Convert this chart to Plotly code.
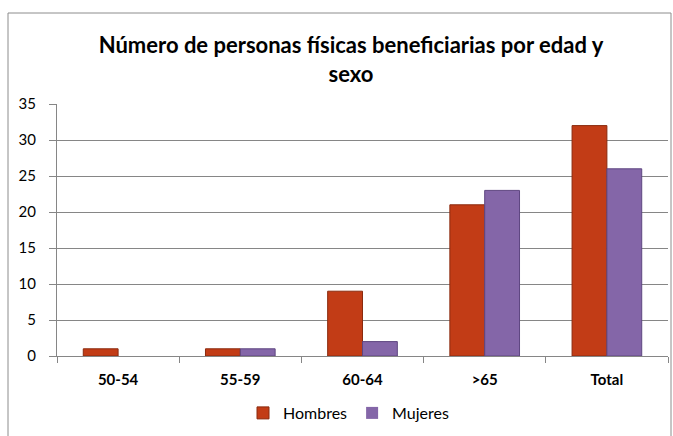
import plotly.graph_objects as go

categories = ["50-54", "55-59", "60-64", ">65", "Total"]
hombres = [1, 1, 9, 21, 32]
mujeres = [0, 1, 2, 23, 26]
y_ticks = [0, 5, 10, 15, 20, 25, 30, 35]

FONT = "Lato, Open Sans, sans-serif"

fig = go.Figure()
fig.add_trace(go.Bar(
    x=categories, y=hombres, name="Hombres",
    marker=dict(color="#C23C16",
                line=dict(color="#8A2A0E", width=[1 if v else 0 for v in hombres])),
))
fig.add_trace(go.Bar(
    x=categories, y=mujeres, name="Mujeres",
    marker=dict(color="#8466A8",
                line=dict(color="#5E4680", width=[1 if v else 0 for v in mujeres])),
))

L, R, T, B = 57, 5, 104, 80
W, H = 673, 436
pw = W - L - R
ph = H - T - B

def px_x(x):
    return (x - L) / pw

def px_y(y):
    return 1 - (y - T) / ph

border = dict(color="#8C8C8C", width=1)
fig.add_shape(type="line", xref="paper", yref="paper",
              x0=px_x(8), x1=px_x(8), y0=px_y(13), y1=px_y(440), line=border)
fig.add_shape(type="line", xref="paper", yref="paper",
              x0=px_x(8), x1=px_x(671), y0=px_y(13), y1=px_y(13), line=border)
fig.add_shape(type="line", xref="paper", yref="paper",
              x0=px_x(671), x1=px_x(671), y0=px_y(13), y1=px_y(440), line=border)

fig.update_layout(
    width=W, height=H,
    margin=dict(l=L, r=R, t=T, b=B, autoexpand=False),
    paper_bgcolor="white", plot_bgcolor="white",
    font=dict(family=FONT, color="#000000"),
    title=dict(
        text="<b>Número de personas físicas beneficiarias por edad y<br>sexo</b>",
        x=351 / W, xanchor="center", y=1 - 53 / H, yanchor="top",
        font=dict(size=22, family=FONT, color="#000000"),
    ),
    barmode="group", bargap=0.43, bargroupgap=0,
    showlegend=True,
    legend=dict(orientation="h", x=px_x(243), xanchor="left",
                y=px_y(396), yanchor="top",
                font=dict(size=16, family=FONT), traceorder="normal",
                itemwidth=30, tracegroupgap=0),
    xaxis=dict(
        type="category", tickson="boundaries",
        ticks="outside", ticklen=6, tickcolor="#868686",
        showline=True, linecolor="#868686", linewidth=1,
        showgrid=False,
        tickfont=dict(size=15, family=FONT, color="#000000"),
        ticklabelstandoff=10,
    ),
    yaxis=dict(
        range=[0, 35], tickvals=y_ticks, ticktext=[str(v) for v in y_ticks],
        ticks="outside", ticklen=7, tickcolor="#868686",
        showline=True, linecolor="#868686", linewidth=1,
        showgrid=True, gridcolor="#868686", gridwidth=1,
        zeroline=False,
        tickfont=dict(size=15, family=FONT, color="#000000"),
        ticklabelstandoff=10,
    ),
)
fig.update_xaxes(tickprefix="<b>", ticksuffix="</b>")

fig.write_html("out.html",
               config={"displayModeBar": False},
               post_script="document.body.style.margin='0';document.body.style.overflow='hidden';")
